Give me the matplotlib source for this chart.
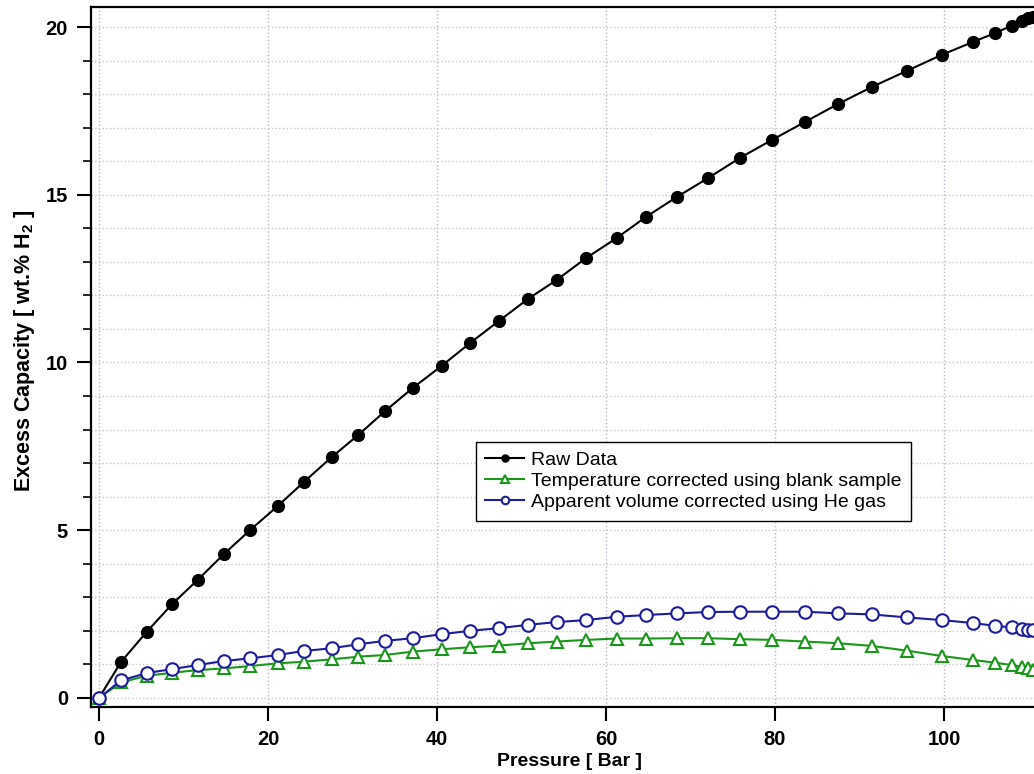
"""
Excess hydrogen capacity vs pressure: raw data and the two corrections.
"""
import matplotlib
matplotlib.use("Agg")
import matplotlib.pyplot as plt
from matplotlib.ticker import MultipleLocator

# ---------------------------------------------------------------------------
# Data
# ---------------------------------------------------------------------------
pressure = [0.0, 2.6, 5.64, 8.67, 11.68, 14.79, 17.91, 21.15, 24.26, 27.54,
            30.69, 33.85, 37.13, 40.56, 43.91, 47.34, 50.8, 54.17, 57.63,
            61.27, 64.73, 68.36, 72.1, 75.86, 79.61, 83.55, 87.49, 91.44,
            95.58, 99.73, 103.48, 106.04, 108.01, 109.2, 109.94, 110.5]

raw_data = [0.0, 1.07, 1.97, 2.80, 3.52, 4.29, 5.01, 5.72, 6.44, 7.18,
            7.84, 8.55, 9.24, 9.90, 10.58, 11.24, 11.90, 12.46, 13.11,
            13.71, 14.34, 14.93, 15.50, 16.10, 16.63, 17.17, 17.71, 18.21,
            18.69, 19.17, 19.56, 19.82, 20.04, 20.19, 20.26, 20.31]

temp_corrected = [0.0, 0.46, 0.66, 0.75, 0.83, 0.88, 0.95, 1.03, 1.08, 1.15,
                  1.23, 1.28, 1.38, 1.45, 1.51, 1.56, 1.63, 1.68, 1.73,
                  1.77, 1.77, 1.78, 1.78, 1.75, 1.73, 1.68, 1.63, 1.55,
                  1.41, 1.25, 1.13, 1.05, 0.98, 0.93, 0.88, 0.83]

he_corrected = [0.0, 0.52, 0.74, 0.86, 0.98, 1.10, 1.18, 1.28, 1.40, 1.48,
                1.60, 1.70, 1.78, 1.90, 2.00, 2.08, 2.18, 2.26, 2.32,
                2.42, 2.47, 2.52, 2.56, 2.57, 2.57, 2.57, 2.52, 2.49,
                2.40, 2.32, 2.23, 2.15, 2.10, 2.06, 2.03, 2.01]

labels = ["Raw Data",
          "Temperature corrected using blank sample",
          "Apparent volume corrected using He gas"]

# ---------------------------------------------------------------------------
# Style
# ---------------------------------------------------------------------------
plt.rcParams["font.family"] = ["Liberation Sans", "DejaVu Sans"]
plt.rcParams["mathtext.fontset"] = "custom"
plt.rcParams["mathtext.rm"] = "Liberation Sans:bold"
plt.rcParams["mathtext.bf"] = "Liberation Sans:bold"

BLACK = "#000000"
GREEN = "#1a961a"
BLUE = "#1c1c9c"

fig = plt.figure(figsize=(10.34, 7.74), dpi=100)
ax = fig.add_axes([0.088, 0.0866, 0.912, 0.9045])

ax.plot(pressure, raw_data, color=BLACK, lw=1.5, marker="o", ms=8.5,
        mfc=BLACK, mec=BLACK, label=labels[0], zorder=3)
ax.plot(pressure, temp_corrected, color=GREEN, lw=1.5, marker="^", ms=9,
        mfc="white", mec=GREEN, mew=1.5, label=labels[1], zorder=4)
ax.plot(pressure, he_corrected, color=BLUE, lw=1.5, marker="o", ms=9,
        mfc="white", mec=BLUE, mew=1.5, label=labels[2], zorder=5)

ax.set_xlim(-0.95, 110.65)
ax.set_ylim(-0.27, 20.6)

ax.xaxis.set_major_locator(MultipleLocator(20))
ax.yaxis.set_major_locator(MultipleLocator(5))
ax.yaxis.set_minor_locator(MultipleLocator(1))

ax.grid(True, which="major", axis="x", color="#b8b8c8", ls=":", lw=1.0)
ax.grid(True, which="both", axis="y", color="#c8c8c8", ls=":", lw=1.0)
ax.set_axisbelow(True)

ax.tick_params(axis="both", which="major", direction="out", length=10,
               width=1.5, labelsize=14.5, pad=6.5)
ax.tick_params(axis="y", which="minor", direction="out", length=6, width=1.2)
for lbl in ax.get_xticklabels() + ax.get_yticklabels():
    lbl.set_fontweight("bold")

for side in ("left", "bottom", "top"):
    ax.spines[side].set_linewidth(1.6)
ax.spines["right"].set_visible(False)

ax.set_xlabel("Pressure [ Bar ]", fontsize=14, fontweight="bold")
ax.xaxis.set_label_coords(0.507, -0.066)
ax.set_ylabel(r"Excess Capacity [ wt.% H$_{\mathbf{2}}$ ]", fontsize=15.5,
              fontweight="bold")
ax.yaxis.set_label_coords(-0.057, 0.509)

leg = ax.legend(loc="upper left", bbox_to_anchor=(0.408, 0.379),
                fontsize=14, frameon=True, fancybox=False, framealpha=1,
                edgecolor="black", handlelength=2.0, handletextpad=0.35,
                markerscale=0.6, borderpad=0.5, labelspacing=0.18,
                borderaxespad=0)
leg.get_frame().set_linewidth(1.0)

fig.savefig("out.png", dpi=100)
